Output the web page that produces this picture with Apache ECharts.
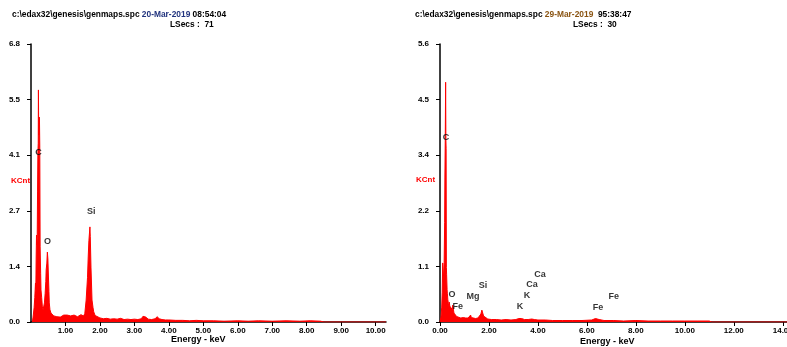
<!DOCTYPE html>
<html>
<head>
<meta charset="utf-8">
<script src="https://cdn.jsdelivr.net/npm/echarts@6/dist/echarts.min.js"></script>
<style>
html, body { margin: 0; padding: 0; background: #fff; }
#main { width: 787px; height: 347px; }
</style>
</head>
<body>
<div id="main"></div>
<script>
// spectra: [energy keV, KCnt]
var leftSpectrum = [
    [0.04,0.0],[0.06,0.12],[0.09,0.35],[0.11,0.6],[0.13,0.96],[0.14,0.8],[0.15,1.6],[0.16,2.14],
    [0.17,1.9],[0.18,2.05],[0.19,3.2],[0.20,4.16],[0.21,4.4],[0.215,5.71],[0.225,4.6],[0.235,4.9],
    [0.245,5.04],[0.255,4.3],[0.265,1.85],[0.28,1.2],[0.29,0.79],[0.31,0.6],[0.33,0.37],[0.35,0.3],
    [0.37,0.33],[0.39,0.47],[0.41,0.7],[0.43,1.0],[0.44,1.28],[0.46,1.45],[0.475,1.72],[0.49,1.55],
    [0.50,1.28],[0.52,0.75],[0.53,0.47],[0.55,0.3],[0.58,0.22],[0.62,0.18],[0.66,0.15],[0.70,0.16],
    [0.75,0.13],[0.80,0.15],[0.85,0.12],[0.90,0.14],[0.95,0.17],[1.00,0.15],[1.05,0.17],[1.10,0.13],
    [1.15,0.15],[1.20,0.14],[1.25,0.17],[1.30,0.15],[1.35,0.13],[1.40,0.16],[1.45,0.18],[1.48,0.22],
    [1.52,0.15],[1.56,0.2],[1.60,0.54],[1.64,1.1],[1.66,1.6],[1.68,2.0],[1.71,2.34],[1.72,2.1],
    [1.74,1.35],[1.77,0.54],[1.80,0.35],[1.82,0.25],[1.86,0.16],[1.91,0.12],[2.0,0.1],[2.1,0.08],
    [2.2,0.09],[2.3,0.07],[2.4,0.08],[2.5,0.07],[2.6,0.09],[2.7,0.06],[2.8,0.07],[2.9,0.06],
    [3.0,0.07],[3.1,0.06],[3.2,0.08],[3.25,0.14],[3.29,0.17],[3.33,0.12],[3.4,0.07],[3.5,0.06],
    [3.6,0.08],[3.66,0.13],[3.72,0.08],[3.8,0.06],[3.9,0.05],[4.0,0.05],[4.2,0.04],[4.4,0.04],
    [4.6,0.03],[4.8,0.04],[5.0,0.03],[5.3,0.03],[5.6,0.02],[6.0,0.03],[6.3,0.02],[6.6,0.03],
    [7.0,0.02],[7.4,0.03],[7.8,0.02],[8.1,0.03],[8.4,0.02],[8.5,0],[10.3,0]
];
var rightSpectrum = [
    [0.0,0],[0.04,0.1],[0.07,0.3],[0.09,0.6],[0.11,1.19],[0.13,0.81],[0.15,0.85],[0.17,1.2],
    [0.19,2.0],[0.20,2.92],[0.215,3.67],[0.23,4.83],[0.24,3.67],[0.25,3.5],[0.26,1.1],[0.27,0.95],
    [0.29,0.65],[0.30,0.58],[0.32,0.45],[0.34,0.38],[0.36,0.3],[0.38,0.40],[0.40,0.32],[0.42,0.28],
    [0.44,0.34],[0.46,0.3],[0.48,0.30],[0.50,0.25],[0.52,0.34],[0.54,0.28],[0.57,0.18],[0.62,0.14],
    [0.68,0.11],[0.75,0.1],[0.85,0.08],[0.95,0.09],[1.05,0.08],[1.15,0.08],[1.22,0.12],[1.25,0.14],
    [1.28,0.09],[1.35,0.08],[1.45,0.07],[1.55,0.08],[1.62,0.1],[1.67,0.16],[1.71,0.24],[1.74,0.2],
    [1.78,0.12],[1.84,0.08],[1.95,0.06],[2.1,0.05],[2.3,0.05],[2.5,0.04],[2.7,0.05],[2.9,0.04],
    [3.1,0.05],[3.22,0.07],[3.28,0.11],[3.33,0.07],[3.45,0.05],[3.6,0.05],[3.75,0.06],[3.85,0.05],
    [4.0,0.04],[4.3,0.04],[4.6,0.03],[5.0,0.03],[5.4,0.03],[5.8,0.03],[6.2,0.04],[6.35,0.07],
    [6.42,0.09],[6.5,0.05],[6.7,0.03],[7.1,0.03],[7.5,0.02],[8.0,0.03],[8.5,0.02],[9.0,0.02],
    [9.5,0.02],[10.0,0.02],[10.5,0.02],[11.0,0.02],[11.1,0],[14.5,0]
];
// element labels: [symbol, keV, KCnt]
var leftPeaks = [['C',0.22,4.16],['O',0.48,1.97],['Si',1.75,2.71]];
var rightPeaks = [
    ['C',0.245,3.71],['O',0.49,0.56],['Fe',0.73,0.32],['Mg',1.35,0.52],['Si',1.76,0.73],
    ['K',3.27,0.32],['K',3.55,0.54],['Ca',3.76,0.75],['Ca',4.08,0.95],['Fe',6.45,0.30],['Fe',7.10,0.52]
];
var leftXTicks = [1,2,3,4,5,6,7,8,9,10];
var rightXTicks = [0,2,4,6,8,10,12,14];
var leftYTicks = [0,1.368,2.736,4.104,5.472,6.84];
var rightYTicks = [0,1.12,2.24,3.36,4.48,5.6];

var red = '#ff0000';
var font = 'Liberation Sans';

function peakData(list) {
    return list.map(function (p) { return { name: p[0], value: [p[1], p[2]] }; });
}
function xAxisOf(idx, max, ticks) {
    return {
        type: 'value', gridIndex: idx, min: 0, max: max,
        splitLine: { show: false },
        axisLine: { show: true, onZero: false, lineStyle: { color: '#000', width: 1.5 } },
        axisTick: { show: true, length: 4, customValues: ticks, lineStyle: { color: '#000' } },
        axisLabel: {
            customValues: ticks, margin: 5, color: '#000', fontSize: 8, fontWeight: 'bold', fontFamily: font,
            formatter: function (v) { return v.toFixed(2); }
        }
    };
}
function yAxisOf(idx, max, ticks) {
    return {
        type: 'value', gridIndex: idx, min: 0, max: max,
        splitLine: { show: false },
        axisLine: { show: true, lineStyle: { color: '#000', width: 1.5 } },
        axisTick: { show: true, length: 4, customValues: ticks, lineStyle: { color: '#000' } },
        axisLabel: {
            customValues: ticks, margin: 11, color: '#000', fontSize: 8, fontWeight: 'bold', fontFamily: font,
            formatter: function (v) { return v.toFixed(1); }
        }
    };
}
function spectrumSeries(idx, data) {
    return {
        type: 'line', xAxisIndex: idx, yAxisIndex: idx, data: data,
        showSymbol: false, sampling: 'none', silent: true,
        lineStyle: { color: red, width: 1 },
        areaStyle: { color: red, opacity: 1 }
    };
}
function peakSeries(idx, list) {
    return {
        type: 'scatter', xAxisIndex: idx, yAxisIndex: idx, data: peakData(list),
        symbolSize: 1, itemStyle: { color: 'rgba(0,0,0,0)' }, z: 5, silent: true,
        label: {
            show: true, position: 'inside', formatter: '{b}',
            color: '#000', fontSize: 9, fontWeight: 'bold', fontFamily: font
        }
    };
}
function header(x, path, date, time, lsecs, dateColor) {
    return [
        { type: 'text', left: x, top: 11, style: {
            text: path + ' {d|' + date + '} ' + time,
            fill: '#000', font: 'bold 8.4px "' + font + '"',
            rich: { d: { fill: dateColor, font: 'bold 8.4px "' + font + '"' } }
        } },
        { type: 'text', left: x + 158, top: 21, style: {
            text: 'LSecs :  ' + lsecs, fill: '#000', font: 'bold 8.4px "' + font + '"'
        } }
    ];
}

var chart = echarts.init(document.getElementById('main'), null, { renderer: 'canvas' });
var option = {
    animation: false,
    backgroundColor: '#fff',
    grid: [
        { left: 31, top: 44, width: 355, height: 278, containLabel: false, outerBoundsMode: 'none' },
        { left: 440, top: 44, width: 355, height: 278, containLabel: false, outerBoundsMode: 'none' }
    ],
    xAxis: [xAxisOf(0, 10.3, leftXTicks), xAxisOf(1, 14.5, rightXTicks)],
    yAxis: [yAxisOf(0, 6.84, leftYTicks), yAxisOf(1, 5.6, rightYTicks)],
    series: [
        spectrumSeries(0, leftSpectrum),
        spectrumSeries(1, rightSpectrum),
        peakSeries(0, leftPeaks),
        peakSeries(1, rightPeaks)
    ],
    graphic: [].concat(
        header(12, 'c:\\edax32\\genesis\\genmaps.spc', '20-Mar-2019', '08:54:04', '71', '#22347e'),
        header(415, 'c:\\edax32\\genesis\\genmaps.spc', '29-Mar-2019', ' 95:38:47', '30', '#8a5412'),
        [
            { type: 'text', left: 11, top: 177, style: { text: 'KCnt', fill: red, font: 'bold 8px "' + font + '"' } },
            { type: 'text', left: 416, top: 176, style: { text: 'KCnt', fill: red, font: 'bold 8px "' + font + '"' } },
            { type: 'text', left: 171, top: 335, style: { text: 'Energy - keV', fill: '#000', font: 'bold 9px "' + font + '"' } },
            { type: 'text', left: 580, top: 337, style: { text: 'Energy - keV', fill: '#000', font: 'bold 9px "' + font + '"' } }
        ]
    )
};
chart.setOption(option);
</script>
</body>
</html>
